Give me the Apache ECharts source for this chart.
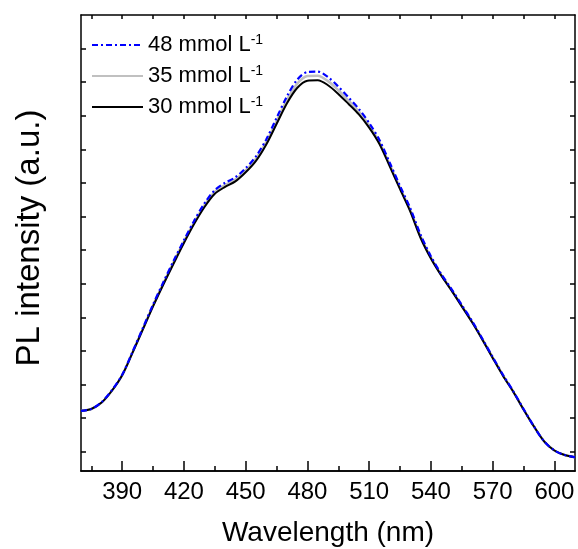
<!DOCTYPE html>
<html>
<head>
<meta charset="utf-8">
<script src="https://cdn.jsdelivr.net/npm/echarts@6/dist/echarts.min.js"></script>
<style>
html,body{margin:0;padding:0;background:#fff;}
#chart{width:578px;height:549px;}
</style>
</head>
<body>
<div id="chart"></div>
<script>
// ---- data ----
const wavelength = [370,375,380,385,390,395,400,405,410,415,420,425,430,435,440,445,450,455,460,465,470,475,480,485,490,495,500,505,510,515,520,525,530,535,540,545,550,555,560,565,570,575,580,585,590,595,600,605,610];
const pl48 = [13.2,13.6,15.1,17.7,21.1,26.1,31.3,36.5,41.4,46.1,50.6,54.9,58.7,61.6,63.2,64.4,66.4,69.0,72.7,77.4,82.1,85.8,87.5,87.6,86.4,84.3,81.9,79.4,76.3,72.6,67.6,62.5,57.6,51.8,47.1,43.2,39.9,36.4,32.9,29.0,25.0,21.1,17.5,13.6,9.8,6.5,4.5,3.5,3.0];
const pl35 = [13.2,13.6,15.0,17.6,21.0,26.0,31.1,36.3,41.1,45.8,50.3,54.5,58.3,61.2,62.7,63.9,65.9,68.5,72.1,76.7,81.3,84.9,86.6,86.7,85.5,83.5,81.2,78.8,75.8,72.1,67.2,62.1,57.2,51.4,46.8,43.0,39.7,36.2,32.7,28.9,24.9,21.0,17.4,13.5,9.8,6.5,4.5,3.5,3.0];
const pl30 = [13.2,13.6,15.0,17.6,21.0,25.9,31.0,36.1,40.9,45.5,50.0,54.2,57.9,60.8,62.3,63.5,65.5,68.0,71.6,76.1,80.6,84.0,85.6,85.7,84.6,82.7,80.5,78.2,75.3,71.7,66.8,61.8,56.9,51.1,46.6,42.9,39.6,36.1,32.6,28.8,24.8,20.9,17.4,13.5,9.8,6.5,4.5,3.5,3.0];
const seriesNames = ['48 mmol L-1','35 mmol L-1','30 mmol L-1'];
const xMajorTicks = [390,420,450,480,510,540,570,600];
const xMinorTicks = [375,405,435,465,495,525,555,585];
const xTopTicks = [375,390,405,420,435,450,465,480,495,510,525,540,555,570,585,600];
const yTicks = [4.23,11.6,18.97,26.34,33.7,41.07,48.44,55.8,63.18,70.55,77.92,85.29,92.65];
const xTitle = 'Wavelength (nm)';
const yTitle = 'PL intensity (a.u.)';

const FONT = '"Liberation Sans", Arial, sans-serif';
const pair = (ys) => wavelength.map((x, i) => [x, ys[i]]);

const axisLine = {show: true, lineStyle: {color: '#000', width: 1.5}};
const baseX = {type: 'value', min: 370, max: 610, splitLine: {show: false}, axisLine: axisLine};
const baseY = {type: 'value', min: 0, max: 100, splitLine: {show: false}, axisLine: axisLine, axisLabel: {show: false}};

const chart = echarts.init(document.getElementById('chart'), null, {renderer: 'canvas'});
chart.setOption({
  animation: false,
  backgroundColor: '#fff',
  grid: {left: 81, right: 3, top: 15, bottom: 78, containLabel: false, outerBoundsMode: 'none'},
  legend: {
    left: 91, top: 33, orient: 'vertical', padding: 0,
    itemWidth: 51, itemHeight: 14, itemGap: 5,
    data: seriesNames,
    itemStyle: {opacity: 0, color: 'rgba(0,0,0,0)', borderWidth: 0},
    formatter: (name) => '{n|' + name.replace('-1', '') + '}{s|-1}',
    textStyle: {
      color: '#000',
      rich: {
        n: {fontFamily: FONT, fontSize: 22, lineHeight: 24, color: '#000'},
        s: {fontFamily: FONT, fontSize: 14, lineHeight: 24, color: '#000', verticalAlign: 'top', padding: [0, 0, 12, 0]}
      }
    }
  },
  xAxis: [
    Object.assign({}, baseX, {
      position: 'bottom',
      name: xTitle, nameLocation: 'middle', nameGap: 48,
      nameTextStyle: {fontFamily: FONT, fontSize: 28, color: '#000'},
      axisTick: {show: true, inside: true, length: 10, customValues: xMajorTicks, lineStyle: {color: '#000', width: 1.5}},
      axisLabel: {show: true, customValues: xMajorTicks, fontFamily: FONT, fontSize: 24, color: '#000', margin: 9}
    }),
    Object.assign({}, baseX, {
      position: 'bottom',
      axisTick: {show: true, inside: true, length: 5, customValues: xMinorTicks, lineStyle: {color: '#000', width: 1.5}},
      axisLabel: {show: false}
    }),
    Object.assign({}, baseX, {
      position: 'top',
      axisTick: {show: true, inside: true, length: 4, customValues: xTopTicks, lineStyle: {color: '#000', width: 1.5}},
      axisLabel: {show: false}
    })
  ],
  yAxis: [
    Object.assign({}, baseY, {
      position: 'left',
      name: yTitle, nameLocation: 'middle', nameGap: 35,
      nameTextStyle: {fontFamily: FONT, fontSize: 33, color: '#000', padding: [0, 0, 0, 10]},
      axisTick: {show: true, inside: true, length: 5, customValues: yTicks, lineStyle: {color: '#000', width: 1.5}}
    }),
    Object.assign({}, baseY, {
      position: 'right',
      axisTick: {show: true, inside: true, length: 5, customValues: yTicks, lineStyle: {color: '#000', width: 1.5}}
    })
  ],
  series: [
    {name: seriesNames[0], type: 'line', data: pair(pl48), xAxisIndex: 0, yAxisIndex: 0, showSymbol: false, symbol: 'none', smooth: 0.3, z: 4,
     color: '#0000ff', lineStyle: {color: '#0000ff', width: 2.2, type: [6, 3, 2, 3]}},
    {name: seriesNames[1], type: 'line', data: pair(pl35), xAxisIndex: 0, yAxisIndex: 0, showSymbol: false, symbol: 'none', smooth: 0.3, z: 2,
     color: '#c0c0c0', lineStyle: {color: '#c0c0c0', width: 2.5}},
    {name: seriesNames[2], type: 'line', data: pair(pl30), xAxisIndex: 0, yAxisIndex: 0, showSymbol: false, symbol: 'none', smooth: 0.3, z: 3,
     color: '#000000', lineStyle: {color: '#000000', width: 2}}
  ]
});
</script>
</body>
</html>
